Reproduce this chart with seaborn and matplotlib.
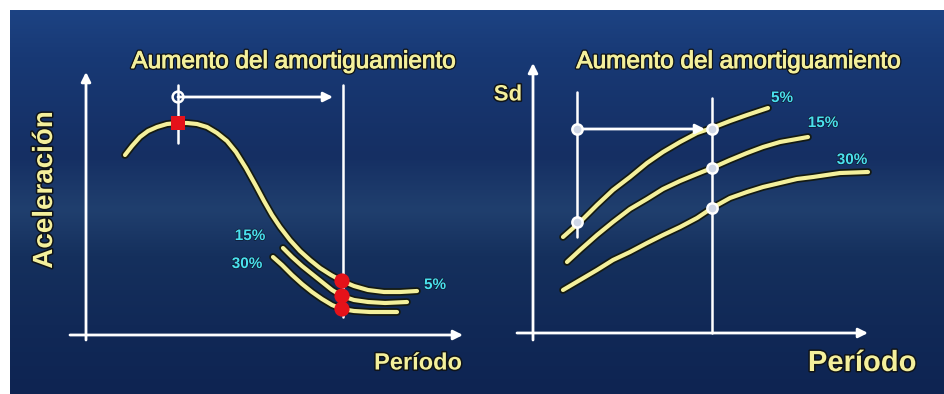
import numpy as np
import pandas as pd
import seaborn as sns
import matplotlib.pyplot as plt
import matplotlib.patheffects as pe
from matplotlib.colors import LinearSegmentedColormap

# --- Espectro de aceleración (panel izquierdo) ---
acel_t_5 = [39, 46, 54, 62, 71, 81, 91, 101, 111, 121, 131, 141, 150, 160, 170,
            178, 186, 194, 204, 214, 224, 234, 245, 256, 268, 282, 298, 314, 331]
acel_5 = [180, 189, 198, 204, 208, 211, 212, 212, 211, 208, 202, 194, 183, 167, 149,
          134, 120, 108, 95, 84, 75, 67, 60, 54, 49, 45, 43, 43, 44]
acel_t_15 = [197, 206, 216, 226, 236, 246, 256, 268, 282, 299, 321]
acel_15 = [87, 78, 69, 61, 53, 45, 39, 35, 33, 32, 33]
acel_t_30 = [187, 196, 206, 216, 226, 236, 246, 256, 268, 284, 311]
acel_30 = [78, 70, 60, 51, 43, 36, 30, 26, 24, 23, 23]

acel_t_sel = [92, 256, 256, 256]        # puntos rojos
acel_sel = [212, 54, 39, 26]
acel_lbl = ["5%", "15%", "30%"]
acel_lbl_pos = [(349, 50), (164, 99), (161, 71)]

# --- Espectro de desplazamiento (panel derecho) ---
sd_t_5 = [30, 47, 64, 80, 97, 114, 130, 147, 164, 179, 197, 214, 235]
sd_5 = [96, 111, 128, 143, 156, 170, 181, 191, 200, 205, 212, 218, 225]
sd_t_15 = [34, 47, 64, 80, 97, 114, 130, 147, 164, 179, 197, 214, 230, 247, 275]
sd_15 = [71, 83, 98, 111, 124, 134, 144, 152, 159, 165, 173, 180, 186, 191, 196]
sd_t_30 = [30, 47, 64, 80, 97, 114, 130, 147, 164, 179, 197, 214, 230, 247, 264,
           280, 307, 335]
sd_30 = [43, 53, 63, 73, 81, 90, 98, 106, 115, 125, 135, 141, 146, 150, 154,
         156, 160, 161]

sd_t_sel = [44, 44, 179, 179, 179]      # puntos blancos
sd_sel = [204, 111, 204, 165, 125]
sd_lbl = ["5%", "15%", "30%"]
sd_lbl_pos = [(249, 235), (290, 210), (319, 173)]

YELLOW = "#f4f09c"
CYAN = "#4ae0ee"
RED = "#e5121a"

sns.set_theme(style="white")
plt.rcParams["font.family"] = ["Liberation Sans", "DejaVu Sans"]

fig = plt.figure(figsize=(9.44, 3.94), dpi=100, facecolor="white")

# fondo degradado azul
bg = fig.add_axes([10 / 944, 0, 934 / 944, 384 / 394])
cmap = LinearSegmentedColormap.from_list(
    "slide",
    [(0.0, "#1d4383"), (0.12, "#183975"), (0.38, "#152f63"), (0.52, "#203f6e"),
     (0.64, "#15305d"), (0.82, "#112957"), (1.0, "#0e2452")])
bg.imshow(np.linspace(0, 1, 256).reshape(-1, 1), aspect="auto", cmap=cmap,
          extent=[0, 1, 0, 1])
bg.axis("off")

outline = [pe.Stroke(linewidth=5.5, foreground="#141a12"), pe.Normal()]
txt_fx = [pe.withStroke(linewidth=2.2, foreground="#101418")]
pct_fx = [pe.withStroke(linewidth=1.0, foreground="#0d1a30")]
title_fx = [pe.Stroke(linewidth=2.6, foreground="#101418"),
            pe.Stroke(linewidth=0.7, foreground=YELLOW), pe.Normal()]


def panel(ax, curves, xlim, ylim):
    df = pd.concat([pd.DataFrame({"periodo": t, "valor": v, "amort": k})
                    for k, (t, v) in curves.items()])
    sns.lineplot(data=df, x="periodo", y="valor", hue="amort",
                 palette={k: YELLOW for k in curves}, sort=False, estimator=None,
                 legend=False, lw=3, ax=ax)
    for ln in ax.lines:
        ln.set_path_effects(outline)
        ln.set_solid_capstyle("round")
        ln.set_solid_joinstyle("round")
    ax.set_xlim(*xlim)
    ax.set_ylim(*ylim)
    ax.axis("off")


def arrow(ax, start, tip, lw=2.0, zorder=3):
    ax.annotate("", xy=tip, xytext=start, zorder=zorder,
                arrowprops=dict(arrowstyle="-|>", color="white", lw=lw,
                                mutation_scale=14, shrinkA=0, shrinkB=0))


# ---------- panel izquierdo ----------
ax1 = fig.add_axes([10 / 944, 0, 465 / 944, 384 / 394])
ax1.patch.set_alpha(0)
panel(ax1, {"5%": (acel_t_5, acel_5), "15%": (acel_t_15, acel_15),
            "30%": (acel_t_30, acel_30)}, (-76, 389), (-59, 325))
arrow(ax1, (0, -5), (0, 263))
arrow(ax1, (-16, 0), (377, 0))
ax1.plot([257, 257], [18, 250], color="white", lw=1.8, zorder=1)
ax1.plot([92, 92], [192, 250], color="white", lw=1.8, zorder=1)
arrow(ax1, (92, 238), (247, 238))
ax1.scatter([92], [238], s=60, facecolor="none", edgecolor="white", lw=1.8, zorder=4)
sns.scatterplot(x=acel_t_sel[:1], y=acel_sel[:1], marker="s", s=95, color=RED,
                edgecolor="none", zorder=5, ax=ax1)
sns.scatterplot(x=acel_t_sel[1:], y=acel_sel[1:], marker="o", s=120, color=RED,
                edgecolor="none", zorder=5, ax=ax1)
for lbl, (x, y) in zip(acel_lbl, acel_lbl_pos):
    ax1.text(x, y, lbl, color=CYAN, fontsize=11, fontweight="bold",
             ha="center", va="center", path_effects=pct_fx)
ax1.text(207, 273, "Aumento del amortiguamiento", color=YELLOW, fontsize=17.5,
         ha="center", va="center", path_effects=title_fx)
ax1.text(-41, 145, "Aceleración", color=YELLOW, fontsize=20, fontweight="bold",
         rotation=90, ha="center", va="center", path_effects=txt_fx)
ax1.text(332, -28, "Período", color=YELLOW, fontsize=17, fontweight="bold",
         ha="center", va="center", path_effects=txt_fx)

# ---------- panel derecho ----------
ax2 = fig.add_axes([475 / 944, 0, 469 / 944, 384 / 394])
ax2.patch.set_alpha(0)
panel(ax2, {"5%": (sd_t_5, sd_5), "15%": (sd_t_15, sd_15),
            "30%": (sd_t_30, sd_30)}, (-58, 411), (-61, 323))
arrow(ax2, (0, -7), (0, 270))
arrow(ax2, (-16, 0), (335, 0))
ax2.plot([44, 44], [96, 241], color="white", lw=1.8, zorder=3)
ax2.plot([179, 179], [0, 235], color="white", lw=1.8, zorder=3)
arrow(ax2, (44, 204), (172, 204))
sns.scatterplot(x=sd_t_sel, y=sd_sel, marker="o", s=55, color="#cfd7e6",
                edgecolor="white", linewidth=1.8, zorder=5, ax=ax2)
for lbl, (x, y) in zip(sd_lbl, sd_lbl_pos):
    ax2.text(x, y, lbl, color=CYAN, fontsize=11, fontweight="bold",
             ha="center", va="center", path_effects=pct_fx)
ax2.text(205, 271, "Aumento del amortiguamiento", color=YELLOW, fontsize=17.5,
         ha="center", va="center", path_effects=title_fx)
ax2.text(-25, 238, "Sd", color=YELLOW, fontsize=16, fontweight="bold",
         ha="center", va="center", path_effects=txt_fx)
ax2.text(329, -30, "Período", color=YELLOW, fontsize=21, fontweight="bold",
         ha="center", va="center", path_effects=txt_fx)

fig.savefig("out.png", dpi=100)
